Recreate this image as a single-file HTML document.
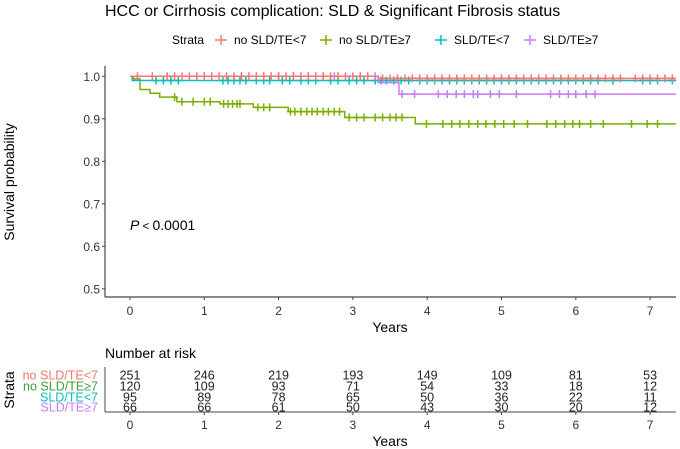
<!DOCTYPE html>
<html><head><meta charset="utf-8"><style>
body{margin:0;background:#fff}
svg{display:block;font-family:"Liberation Sans",Arial,sans-serif}
</style></head><body>
<svg id="c" width="680" height="449" viewBox="0 0 680 449">
<text x="105" y="16" font-size="16" fill="#000">HCC or Cirrhosis complication: SLD &amp; Significant Fibrosis status</text>
<g id="legend" font-size="12">
<text x="172" y="44">Strata</text>
</g>
<g id="plot"></g>
<text transform="translate(14,182) rotate(-90)" text-anchor="middle" font-size="14">Survival probability</text>
<text x="390" y="332" text-anchor="middle" font-size="14">Years</text>
<text x="130" y="230" font-size="14"><tspan font-style="italic">P</tspan><tspan font-size="11.5"> &lt; </tspan>0.0001</text>
<text x="105" y="358" font-size="14">Number at risk</text>
<g id="risk" font-size="12.5"></g>
<text transform="translate(14,390) rotate(-90)" text-anchor="middle" font-size="14">Strata</text>
<text x="390" y="446" text-anchor="middle" font-size="14">Years</text>
</svg>
<script>
const strata = ["no SLD/TE<7","no SLD/TE\u22657","SLD/TE<7","SLD/TE\u22657"];
const colors = ["#F8766D","#7CAE00","#00BFC4","#C77CFF"];
const xTicks = [0,1,2,3,4,5,6,7];
const yTicks = [0.5,0.6,0.7,0.8,0.9,1.0];
const redT = [0,3.34];
const redS = [1.0,0.995];
const greenT = [0,0.045,0.135,0.27,0.4,0.63,1.21,1.66,2.13,2.89,3.84];
const greenS = [1.0,0.994,0.969,0.96,0.951,0.94,0.935,0.927,0.917,0.903,0.888];
const cyanT = [0,0.03];
const cyanS = [1.0,0.99];
const purpleT = [0,3.34,3.62];
const purpleS = [1.0,0.985,0.958];
const redC = [0.1,0.3,0.5,0.6,0.7,0.8,0.9,1.0,1.1,1.2,1.3,1.4,1.5,1.6,1.7,1.8,1.9,2.0,2.1,2.2,2.3,2.4,2.5,2.6,2.7,2.8,2.9,3.0,3.1,3.2,3.4,3.5,3.6,3.7,3.8,3.9,4.0,4.1,4.2,4.3,4.4,4.5,4.6,4.7,4.8,4.9,5.0,5.1,5.2,5.3,5.4,5.5,5.6,5.7,5.8,5.9,6.0,6.1,6.2,6.3,6.4,6.5,6.6,6.8,6.9,7.0,7.1,7.2,7.3];
const greenC = [0.6,0.7,0.85,1.0,1.08,1.26,1.32,1.38,1.44,1.48,1.72,1.8,1.88,2.16,2.22,2.3,2.38,2.45,2.52,2.6,2.67,2.75,2.82,2.95,3.05,3.15,3.3,3.4,3.5,3.58,3.66,3.99,4.21,4.33,4.44,4.56,4.68,4.79,4.91,5.03,5.17,5.35,5.61,5.73,5.85,5.96,6.05,6.2,6.37,6.75,6.96,7.1];
const cyanC = [0.35,0.45,0.55,0.65,1.25,1.32,1.4,1.48,1.56,1.7,1.8,1.88,2.05,2.15,2.3,2.4,2.5,2.7,2.8,2.95,3.05,3.15,3.3,3.38,3.45,3.55,3.65,3.75,3.9,4.0,4.1,4.2,4.3,4.4,4.5,4.6,4.7,4.8,4.9,5.0,5.1,5.2,5.3,5.4,5.5,5.6,5.7,5.8,5.9,6.0,6.1,6.2,6.3,6.5,6.9,7.0,7.1,7.3];
const purpleC = [1.0,1.5,1.8,2.0,2.2,2.4,2.5,2.6,2.75,3.1,3.3,3.66,3.83,4.15,4.27,4.39,4.5,4.62,4.68,4.85,4.97,5.2,5.66,5.78,5.9,6.0,6.14,6.26];
const riskRed = [251,246,219,193,149,109,81,53];
const riskGreen = [120,109,93,71,54,33,18,12];
const riskCyan = [95,89,78,65,50,36,22,11];
const riskPurple = [66,66,61,50,43,30,20,12];

const NS="http://www.w3.org/2000/svg";
const X0=105,X1=676;
const xs=t=>130+t*74.3;
const ys=v=>76.3+(1-v)*425;
function mk(tag,attrs,parent){const e=document.createElementNS(NS,tag);for(const k in attrs)e.setAttribute(k,attrs[k]);parent.appendChild(e);return e;}
const plot=document.getElementById('plot');
let ax=mk('line',{x1:X0,y1:66,x2:X0,y2:297,stroke:'#444','stroke-width':1.2},plot);


ax=mk('line',{x1:X0,y1:297,x2:X1,y2:297,stroke:'#444','stroke-width':1.2},plot);


yTicks.forEach(v=>{
 const y=ys(v);
 const tk=mk('line',{x1:X0-3,y1:y,x2:X0,y2:y,stroke:'#444'},plot);
 
 
 const tl=mk('text',{x:X0-5,y:y+4.5,'text-anchor':'end','font-size':12,fill:'#333'},plot);
 tl.textContent=v.toFixed(1);
 
 
});
xTicks.forEach(t=>{
 const x=xs(t);
 const tk=mk('line',{x1:x,y1:297,x2:x,y2:300,stroke:'#444'},plot);
 
 
 const tl=mk('text',{x:x,y:315,'text-anchor':'middle','font-size':12,fill:'#333'},plot);
 tl.textContent=t;
 
 
});
function stepVal(T,S,t){let v=S[0];for(let i=0;i<T.length;i++)if(T[i]<=t)v=S[i];return v;}
const series=[[redT,redS,redC],[greenT,greenS,greenC],[cyanT,cyanS,cyanC],[purpleT,purpleS,purpleC]];
const order=[1,2,3,0];
order.forEach(i=>{
 const [T,S,C]=series[i];
 let d=`M${xs(0)},${ys(S[0])}`;
 for(let k=1;k<T.length;k++){d+=`H${xs(T[k])}V${ys(S[k])}`;}
 d+=`H${X1}`;
 const p=mk('path',{d:d,fill:'none',stroke:colors[i],'stroke-width':1.5},plot);
 
 
 C.forEach(t=>{
  const x=xs(t),y=ys(stepVal(T,S,t));
  const m=mk('path',{d:`M${x-3.5},${y}H${x+3.5}M${x},${y-4}V${y+4}`,stroke:colors[i],'stroke-width':1.5},plot);
  
  
 });
});
const lg=document.getElementById('legend');
const lx=[221,326,441,530];
strata.forEach((s,i)=>{
 const g=mk('g',{},lg);
 
 
 mk('path',{d:`M${lx[i]-6},40H${lx[i]+6}M${lx[i]},35V45`,stroke:colors[i],'stroke-width':1.5},g);
 const t=mk('text',{x:lx[i]+13,y:44},g);
 t.textContent=s;
});
const rk=document.getElementById('risk');
const risks=[riskRed,riskGreen,riskCyan,riskPurple];
const ry=[375,386,397,407];
let l=mk('line',{x1:X0,y1:367,x2:X0,y2:412,stroke:'#444'},rk);


l=mk('line',{x1:X0,y1:412,x2:X1,y2:412,stroke:'#444'},rk);


strata.forEach((s,i)=>{
 const lab=mk('text',{x:98,y:ry[i]+4.5,'text-anchor':'end',fill:i==1?'#3DA03D':colors[i]},rk);
 lab.textContent=s;
 
 
 risks[i].forEach((n,k)=>{
  const t=mk('text',{x:xs(xTicks[k]),y:ry[i]+4.5,'text-anchor':'middle',fill:'#222'},rk);
  t.textContent=n;
  
  
 });
});
xTicks.forEach(t=>{
 const x=xs(t);
 const tk=mk('line',{x1:x,y1:412,x2:x,y2:415,stroke:'#444'},rk);
 
 
 const tl=mk('text',{x:x,y:429,'text-anchor':'middle','font-size':12,fill:'#333'},rk);
 tl.textContent=t;
 
 
});
</script>
</body></html>
